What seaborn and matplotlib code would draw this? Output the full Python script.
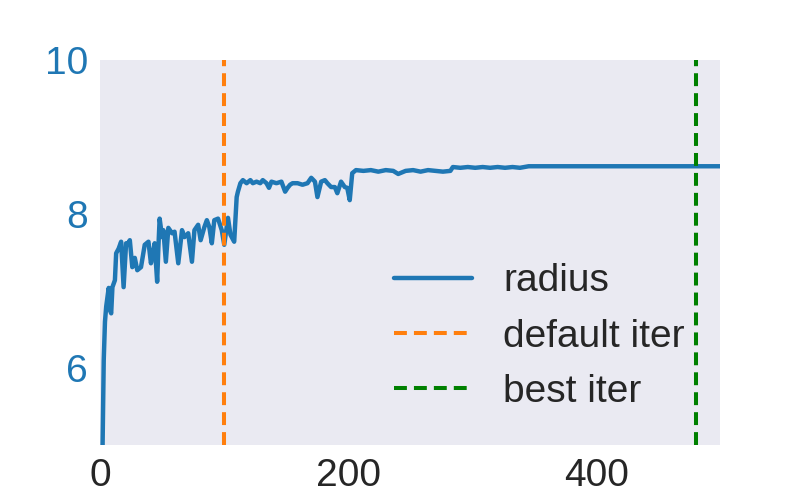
import matplotlib
matplotlib.use("Agg")
import matplotlib.pyplot as plt
import seaborn as sns
import pandas as pd

sns.set_style("dark")
plt.rcParams['font.family'] = ['Liberation Sans', 'DejaVu Sans']

# radius per iteration
iters = [0, 1, 2, 3, 4, 5, 7, 8, 9, 10, 12, 13, 15, 17, 19, 21, 22, 24, 26, 28,
         30, 33, 36, 39, 41, 43, 44, 46, 47, 48, 50, 51, 53, 55, 58, 60, 63,
         66, 68, 71, 74, 76, 79, 81, 84, 86, 88, 90, 92, 95, 98, 100, 103, 105,
         108, 110, 111, 113, 115, 118, 121, 123, 126, 129, 131, 134, 136, 138,
         142, 146, 149, 151, 153, 155, 159, 163, 167, 170, 173, 175, 178, 181,
         183, 186, 189, 191, 194, 197, 199, 201, 203, 206, 212, 218, 224, 230,
         236, 240, 246, 252, 258, 264, 270, 276, 282, 284, 290, 296, 302, 308,
         314, 320, 326, 332, 338, 345, 360, 400, 450, 499]
radius = [3.0, 4.0, 4.9, 6.1, 6.6, 6.8, 7.04, 6.75, 6.71, 7.05, 7.14, 7.49,
          7.55, 7.64, 7.05, 7.62, 7.6, 7.66, 7.31, 7.43, 7.27, 7.31, 7.6, 7.64,
          7.36, 7.53, 7.62, 7.12, 7.57, 7.94, 7.7, 7.79, 7.38, 7.82, 7.75, 7.77,
          7.36, 7.79, 7.7, 7.75, 7.38, 7.79, 7.86, 7.66, 7.83, 7.92, 7.83, 7.62,
          7.92, 7.94, 7.79, 7.6, 7.95, 7.73, 7.64, 8.22, 8.29, 8.4, 8.44, 8.4,
          8.44, 8.4, 8.42, 8.4, 8.44, 8.4, 8.34, 8.42, 8.4, 8.42, 8.29, 8.34,
          8.38, 8.4, 8.4, 8.38, 8.4, 8.47, 8.42, 8.22, 8.42, 8.44, 8.4, 8.35,
          8.35, 8.27, 8.42, 8.35, 8.34, 8.18, 8.53, 8.57, 8.56, 8.57, 8.55, 8.57,
          8.56, 8.52, 8.56, 8.57, 8.55, 8.57, 8.56, 8.55, 8.56, 8.61, 8.6, 8.61,
          8.6, 8.61, 8.6, 8.61, 8.6, 8.61, 8.6, 8.62, 8.62, 8.62, 8.62, 8.62]
default_iter = 100
best_iter = 480

df = pd.DataFrame({'iter': iters, 'radius': radius})

fig, ax = plt.subplots(figsize=(8, 5), dpi=100)
sns.lineplot(data=df, x='iter', y='radius', ax=ax, color='tab:blue',
             linewidth=3.2, label='radius')
dash = (0, (3.2, 1.75))
ax.axvline(default_iter, color='tab:orange', linestyle=dash, linewidth=2.9,
           label='default iter')
ax.axvline(best_iter, color='green', linestyle=dash, linewidth=2.9,
           label='best iter')

ax.set_xlim(0, 499)
ax.set_ylim(5, 10)
ax.set_yticks([6, 8, 10])
ax.set_xticks([0, 200, 400])
ax.set_xlabel('')
ax.set_ylabel('')
ax.tick_params(axis='both', labelsize=28, pad=5)
ax.tick_params(axis='y', labelcolor='tab:blue')
ax.tick_params(axis='x', labelcolor='#262626', pad=6)
for s in ax.spines.values():
    s.set_visible(False)

ax.legend(loc='lower right', fontsize=28, frameon=False)
fig.savefig('out.png')
